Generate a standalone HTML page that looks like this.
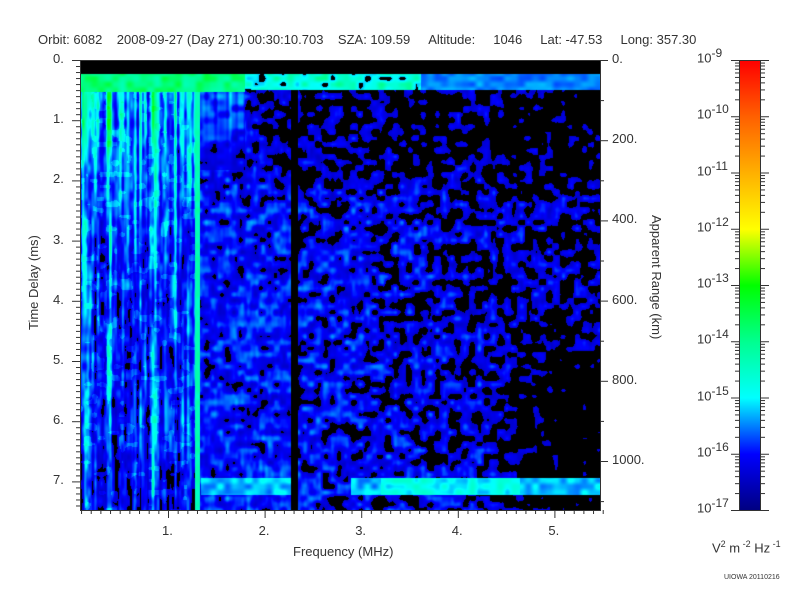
<!DOCTYPE html>
<html><head><meta charset="utf-8"><style>
body{margin:0;background:#fff;width:800px;height:600px;overflow:hidden;font-family:"Liberation Sans",sans-serif;color:#333}
#c{position:absolute;left:80px;top:60px}
.t{position:absolute;font-size:13px;white-space:nowrap}
</style></head><body>
<canvas id="c" width="520" height="450"></canvas>
<svg width="800" height="600" style="position:absolute;left:0;top:0" id="s"></svg>
<div class="t" style="left:38px;top:32px">Orbit: 6082&nbsp;&nbsp;&nbsp;&nbsp;2008-09-27 (Day 271) 00:30:10.703&nbsp;&nbsp;&nbsp;&nbsp;SZA: 109.59&nbsp;&nbsp;&nbsp;&nbsp;&nbsp;Altitude:&nbsp;&nbsp;&nbsp;&nbsp;&nbsp;1046&nbsp;&nbsp;&nbsp;&nbsp;&nbsp;Lat: -47.53&nbsp;&nbsp;&nbsp;&nbsp;&nbsp;Long: 357.30</div>
<div class="t" style="left:293px;top:544px">Frequency (MHz)</div>
<div class="t" style="left:26px;top:330px;transform:rotate(-90deg);transform-origin:0 0">Time Delay (ms)</div>
<div class="t" style="left:664px;top:215px;transform:rotate(90deg);transform-origin:0 0">Apparent Range (km)</div>
<div class="t" style="left:712px;top:539px">V<sup style="font-size:9px">2</sup> m<sup style="font-size:9px"> -2</sup> Hz<sup style="font-size:9px"> -1</sup></div>
<div class="t" style="left:724px;top:574px;font-size:7px">UIOWA 20110216</div>
<div id="lab"></div>
<script>
var s=document.getElementById('s'),h='';
function ln(x1,y1,x2,y2){h+='<line x1="'+x1+'" y1="'+y1+'" x2="'+x2+'" y2="'+y2+'" stroke="#333" stroke-width="1"/>';}
var L='';
function tx(x,y,t,a){L+='<div class="t" style="left:'+x+'px;top:'+y+'px;'+(a||'')+'">'+t+'</div>';}
h+='<rect x="80.5" y="60.5" width="520" height="450" fill="none" stroke="#333"/>';
for(var i=0;i<=74;i++){var y=60+i*6.02;if(y>510)break;var big=i%10==0;ln(big?72:76,y+.5,80,y+.5);}
for(var k=0;k<=7;k++){tx(53,60+k*60.2-9,k+'.');}
for(var i=1;i<=55;i++){var x=71.4+i*9.66;if(x<80)continue;var big=i%10==0;ln(x+.5,510,x+.5,big?518:514);}
for(var k=1;k<=5;k++)tx(71.4+k*96.6-6,523,k+'.');
for(var r=0;r<=1100;r+=100){var y=60+r*0.401;var big=r%200==0;ln(600,y+.5,big?608:604,y+.5);if(big)tx(612,y-9,r+'.');}
h+='<defs><linearGradient id="g" x1="0" y1="1" x2="0" y2="0"><stop offset="0" stop-color="#000080"/><stop offset=".125" stop-color="#0000ff"/><stop offset=".25" stop-color="#00ffff"/><stop offset=".375" stop-color="#00ff90"/><stop offset=".5" stop-color="#00ff00"/><stop offset=".625" stop-color="#ffff00"/><stop offset=".75" stop-color="#ffb000"/><stop offset=".875" stop-color="#ff6000"/><stop offset="1" stop-color="#ff0000"/></linearGradient></defs>';
h+='<rect x="739.5" y="60.5" width="21" height="450" fill="url(#g)" stroke="#333"/>';
for(var d=0;d<8;d++){var y0=510-d*56.25;ln(731,y0+.5,739,y0+.5);ln(761,y0+.5,769,y0+.5);
 for(var m=2;m<10;m++){var y=y0-Math.log10(m)*56.25;ln(735,y+.5,739,y+.5);ln(761,y+.5,765,y+.5);}}
ln(731,60.5,739,60.5);ln(761,60.5,769,60.5);
for(var e=9;e<=17;e++){var y=510-(17-e)*56.25;tx(697,y-14,'10<sup style="font-size:12px">-'+e+'</sup>');}
s.innerHTML=h;document.getElementById('lab').innerHTML=L;
function hs(i,j){var n=(i*374761393+j*668265263)|0;n=(n^(n>>>13))*1274126177|0;n=n^(n>>>16);return ((n>>>0)%10000)/10000;}
function sm(t){return t*t*(3-2*t);}
function cl(t){return t<0?0:t>1?1:t;}
function vn(x,y){var i=Math.floor(x),j=Math.floor(y),fx=sm(x-i),fy=sm(y-j);
 var a=hs(i,j),b=hs(i+1,j),c=hs(i,j+1),d=hs(i+1,j+1);return a+(b-a)*fx+(c-a)*fy+(a-b-c+d)*fx*fy;}
var stops=[[0,0,0,128],[.125,0,0,255],[.25,0,255,255],[.375,0,255,144],[.5,0,255,0],[.625,255,255,0],[.75,255,176,0],[.875,255,96,0],[1,255,0,0]];
function cm(v){if(v<0.07)return[0,0,0];if(v>1)v=1;for(var i=1;i<stops.length;i++)if(v<=stops[i][0]){var a=stops[i-1],b=stops[i],t=(v-a[0])/(b[0]-a[0]);return[a[1]+(b[1]-a[1])*t,a[2]+(b[2]-a[2])*t,a[3]+(b[3]-a[3])*t];}}
var W=520,H=450;
var ctx=document.getElementById('c').getContext('2d');
var img=ctx.createImageData(W,H);
for(var py=0;py<H;py++)for(var px=0;px<W;px++){
 var x=px+80,y=py+60,v;
 var n=vn(px/7,py/6),n2=vn(px/3+50,py/9+50);
 if(y<74)v=0;
 else if(x<245&&y<92){v=0.33+0.12*n;}
 else if(y<90){v=x>420?0.16+0.06*n:(n>0.2?0.18+0.2*n:0);}
 else if(x<195){var col=vn(px/2.5,0.5);var sb=vn(px/2.5,py/60);v=0.04+0.3*col*sb+0.1*n2+(n>0.7?0.04:0)-py*0.0001+0.14*col*cl((260-y)/160);}
 else if(x>=195&&x<200){v=0.3+0.06*n;}
 else if(x<245&&y<170){var col=vn(px/3,0.5);v=0.02+0.12*n+0.2*col*cl((170-y)/80);}
 else if(x>=291&&x<298){v=0;}
 else if(y>477&&y<495&&((x>200&&x<291)||x>350)){v=0.17+0.1*n;if(x>380&&x<520)v+=0.04;}
 else if(x<291){v=0.02+0.15*n+0.05*n2-0.05*cl((x-245)/10)*cl((200-y)/40);}
 else{var fall=(x-298)/300;var topq=0.045*cl((210-y)/60);var br=0.07*cl((x-480)/80)*cl((y-300)/100);
   v=0.005+0.17*n+0.04*n2-0.04*fall-topq-br;}
 var c=cm(v),p=(py*W+px)*4;img.data[p]=c[0];img.data[p+1]=c[1];img.data[p+2]=c[2];img.data[p+3]=255;}
ctx.putImageData(img,0,0);
</script>
</body></html>
